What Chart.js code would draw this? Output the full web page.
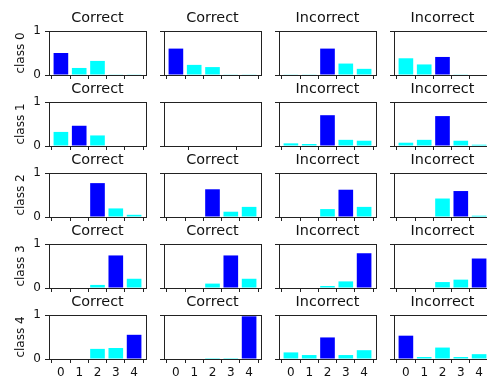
<!DOCTYPE html>
<html>
<head>
<meta charset="utf-8">
<script src="https://cdn.jsdelivr.net/npm/chart.js@4/dist/chart.umd.min.js"></script>
<style>
  body { margin: 0; background: #fff; }
  #grid { position: relative; width: 487px; height: 380px; overflow: hidden; }
  #grid canvas { position: absolute; }
</style>
</head>
<body>
<div id="grid"></div>
<script>
// classes on the x axis, ticks on the y axis
const xCats = [0, 1, 2, 3, 4];
const yTicks = [0, 1];
const emptyTicks = [0, 0.5, 1];
const rowLabels = ['class 0', 'class 1', 'class 2', 'class 3', 'class 4'];

// panel titles, one row per true class
const titles0 = ['Correct', 'Correct', 'Incorrect', 'Incorrect'];
const titles1 = ['Correct', '', 'Incorrect', 'Incorrect'];
const titles2 = ['Correct', 'Correct', 'Incorrect', 'Incorrect'];
const titles3 = ['Correct', 'Correct', 'Incorrect', 'Incorrect'];
const titles4 = ['Correct', 'Correct', 'Incorrect', 'Incorrect'];

// predicted probabilities per panel (null = empty panel)
const class0Probs = [
    [0.50, 0.16, 0.32, 0.015, 0.015],
    [0.60, 0.23, 0.18, 0.015, 0.015],
    [0.015, 0.015, 0.60, 0.26, 0.14],
    [0.38, 0.24, 0.41, 0.015, 0]
];
const class1Probs = [
    [0.32, 0.46, 0.24, 0, 0],
    null,
    [0.06, 0.045, 0.70, 0.14, 0.12],
    [0.075, 0.14, 0.68, 0.12, 0.03]
];
const class2Probs = [
    [0, 0, 0.77, 0.195, 0.05],
    [0, 0, 0.63, 0.12, 0.23],
    [0, 0, 0.18, 0.62, 0.23],
    [0, 0, 0.42, 0.59, 0.03]
];
const class3Probs = [
    [0, 0, 0.07, 0.74, 0.21],
    [0, 0, 0.10, 0.74, 0.21],
    [0, 0, 0.045, 0.15, 0.79],
    [0, 0, 0.135, 0.19, 0.67]
];
const class4Probs = [
    [0, 0, 0.23, 0.25, 0.55],
    [0, 0, 0.02, 0.02, 0.97],
    [0.15, 0.09, 0.49, 0.09, 0.20],
    [0.53, 0.045, 0.26, 0.045, 0.11]
];

const allTitles = [titles0, titles1, titles2, titles3, titles4];
const allProbs = [class0Probs, class1Probs, class2Probs, class3Probs, class4Probs];

// layout of the 5x4 grid (frame = plot area)
const frameLefts = [49, 164, 279, 394];
const frameTops = [31, 102, 173, 244, 315];
const frameW = 97;
const frameH = 44;
const padL = 45, padT = 31, padR = 12, padB = 25;
const titleSize = 14.4;
const titleGap = 4.36;
const BLUE = '#0000ff';
const CYAN = '#00ffff';
const INK = '#111';

Chart.defaults.font.family = "'DejaVu Sans', sans-serif";

// matplotlib-style box around the axes
const framePlugin = {
    id: 'frame',
    afterDraw: function(chart) {
        const a = chart.chartArea;
        const ctx = chart.ctx;
        ctx.save();
        ctx.strokeStyle = '#222';
        ctx.lineWidth = 1;
        ctx.strokeRect(Math.round(a.left) + 0.5, Math.round(a.top) + 0.5,
            Math.round(a.width), Math.round(a.height));
        ctx.restore();
    }
};

const tickGrid = {
    display: true,
    drawOnChartArea: false,
    drawTicks: true,
    tickLength: 4,
    color: '#222',
    lineWidth: 1
};

const grid = document.getElementById('grid');

function makePanel(r, c) {
    const probs = allProbs[r][c];
    const title = allTitles[r][c];
    const isEmpty = !probs;

    const canvas = document.createElement('canvas');
    canvas.width = padL + frameW + padR;
    canvas.height = padT + frameH + padB;
    canvas.style.left = (frameLefts[c] - padL) + 'px';
    canvas.style.top = (frameTops[r] - padT) + 'px';
    grid.appendChild(canvas);

    const best = isEmpty ? -1 : probs.indexOf(Math.max.apply(null, probs));
    const datasets = isEmpty ? [] : [{
        data: probs,
        backgroundColor: probs.map(function (v, i) { return i === best ? BLUE : CYAN; }),
        borderWidth: 0,
        barPercentage: 0.8,
        categoryPercentage: 1
    }];
    const xTicks = isEmpty ? emptyTicks : xCats;
    const titleH = titleSize * 1.2 + titleGap;

    new Chart(canvas.getContext('2d'), {
        type: 'bar',
        data: { labels: xCats, datasets: datasets },
        options: {
            responsive: false,
            animation: false,
            devicePixelRatio: 1,
            layout: { padding: { left: 0, right: padR, top: title ? padT - titleH : padT, bottom: 0 } },
            plugins: {
                legend: { display: false },
                tooltip: { enabled: false },
                title: {
                    display: !!title,
                    text: title,
                    fullSize: false,
                    color: INK,
                    font: { size: titleSize, weight: 'normal', lineHeight: 1.2 },
                    padding: { top: 0, bottom: titleGap }
                }
            },
            scales: {
                x: {
                    type: 'linear',
                    offset: false,
                    min: isEmpty ? 0 : -0.65,
                    max: isEmpty ? 1 : 4.65,
                    bounds: 'data',
                    afterBuildTicks: function (s) { s.ticks = xTicks.map(function (v) { return { value: v }; }); },
                    afterFit: function (s) { s.height = padB; },
                    grid: tickGrid,
                    border: { display: false },
                    ticks: {
                        display: r === 4,
                        padding: 3,
                        color: INK,
                        font: { size: 12 },
                        autoSkip: false,
                        maxRotation: 0,
                        callback: function (v) { return String(v); }
                    }
                },
                y: {
                    min: 0,
                    max: 1,
                    bounds: 'data',
                    afterBuildTicks: function (s) { s.ticks = yTicks.map(function (v) { return { value: v }; }); },
                    afterFit: function (s) { s.width = padL; },
                    grid: tickGrid,
                    border: { display: false },
                    title: {
                        display: c === 0,
                        text: rowLabels[r],
                        color: INK,
                        font: { size: 12 },
                        padding: { top: 9.8, bottom: 0 }
                    },
                    ticks: {
                        display: c === 0,
                        padding: 4,
                        color: INK,
                        font: { size: 12 },
                        callback: function (v) { return String(v); }
                    }
                }
            }
        },
        plugins: [framePlugin]
    });
}

for (let r = 0; r < 5; r++) {
    for (let c = 0; c < 4; c++) {
        makePanel(r, c);
    }
}
</script>
</body>
</html>
